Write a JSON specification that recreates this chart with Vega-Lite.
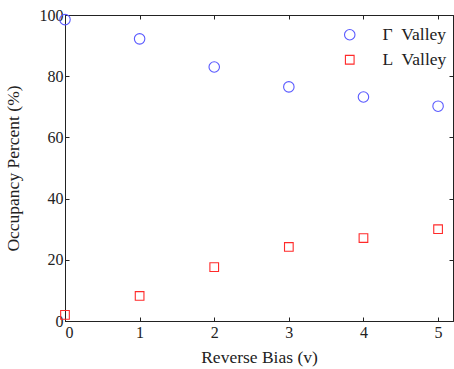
{
  "$schema": "https://vega.github.io/schema/vega-lite/v6.json",
  "autosize": {"type": "none"},
  "width": 388,
  "height": 306,
  "padding": {"left": 65, "top": 15, "right": 1, "bottom": 48},
  "background": "white",
  "config": {
    "font": "Liberation Serif",
    "view": {"stroke": "#222", "strokeWidth": 1},
    "axis": {
      "labelFont": "Liberation Serif",
      "titleFont": "Liberation Serif",
      "labelFontSize": 16,
      "titleFontSize": 17.5,
      "titleFontWeight": "normal",
      "labelColor": "#222",
      "titleColor": "#222",
      "domainColor": "#222",
      "tickColor": "#222",
      "grid": false,
      "tickSize": -4
    },
    "legend": {"labelFont": "Liberation Serif", "labelFontSize": 17.5, "labelColor": "#222"}
  },
  "data": {
    "values": [
      {"bias": 0, "pct": 98.5, "series": "Γ\u00a0 Valley"},
      {"bias": 1, "pct": 92.2, "series": "Γ\u00a0 Valley"},
      {"bias": 2, "pct": 83.0, "series": "Γ\u00a0 Valley"},
      {"bias": 3, "pct": 76.5, "series": "Γ\u00a0 Valley"},
      {"bias": 4, "pct": 73.2, "series": "Γ\u00a0 Valley"},
      {"bias": 5, "pct": 70.2, "series": "Γ\u00a0 Valley"},
      {"bias": 0, "pct": 2.0, "series": "L\u00a0 Valley"},
      {"bias": 1, "pct": 8.2, "series": "L\u00a0 Valley"},
      {"bias": 2, "pct": 17.6, "series": "L\u00a0 Valley"},
      {"bias": 3, "pct": 24.2, "series": "L\u00a0 Valley"},
      {"bias": 4, "pct": 27.1, "series": "L\u00a0 Valley"},
      {"bias": 5, "pct": 30.0, "series": "L\u00a0 Valley"}
    ]
  },
  "layer": [
    {
      "mark": {"type": "point", "filled": false, "strokeWidth": 1.1, "opacity": 1},
      "encoding": {
        "x": {"field": "bias", "type": "quantitative", "title": "Reverse Bias (v)",
              "scale": {"domain": [0, 5.2], "nice": false, "zero": false},
              "axis": {"values": [0, 1, 2, 3, 4, 5], "labelPadding": 7, "titlePadding": 8, "orient": "bottom"}},
        "y": {"field": "pct", "type": "quantitative", "title": "Occupancy Percent (%)",
              "scale": {"domain": [0, 100], "nice": false},
              "axis": {"values": [0, 20, 40, 60, 80, 100], "labelPadding": 6, "titlePadding": 17, "orient": "left"}},
        "color": {"field": "series", "type": "nominal",
                  "scale": {"domain": ["Γ\u00a0 Valley", "L\u00a0 Valley"], "range": ["#5a5aff", "#ff2a2a"]},
                  "legend": {"title": null, "orient": "none", "legendX": 276, "legendY": 11, "rowPadding": 6, "labelOffset": 24, "symbolSize": 110, "symbolStrokeWidth": 1.1}},
        "shape": {"field": "series", "type": "nominal",
                  "scale": {"domain": ["Γ\u00a0 Valley", "L\u00a0 Valley"], "range": ["circle", "square"]},
                  "legend": null},
        "size": {"field": "series", "type": "nominal",
                 "scale": {"domain": ["Γ\u00a0 Valley", "L\u00a0 Valley"], "range": [110, 75]},
                 "legend": null}
      }
    },
    {
      "mark": {"type": "point", "opacity": 0},
      "encoding": {
        "x": {"field": "bias", "type": "quantitative",
              "axis": {"orient": "top", "values": [0, 1, 2, 3, 4, 5], "labels": false, "title": null}},
        "y": {"field": "pct", "type": "quantitative",
              "axis": {"orient": "right", "values": [0, 20, 40, 60, 80, 100], "labels": false, "title": null}}
      }
    }
  ],
  "resolve": {"axis": {"x": "independent", "y": "independent"}}
}
